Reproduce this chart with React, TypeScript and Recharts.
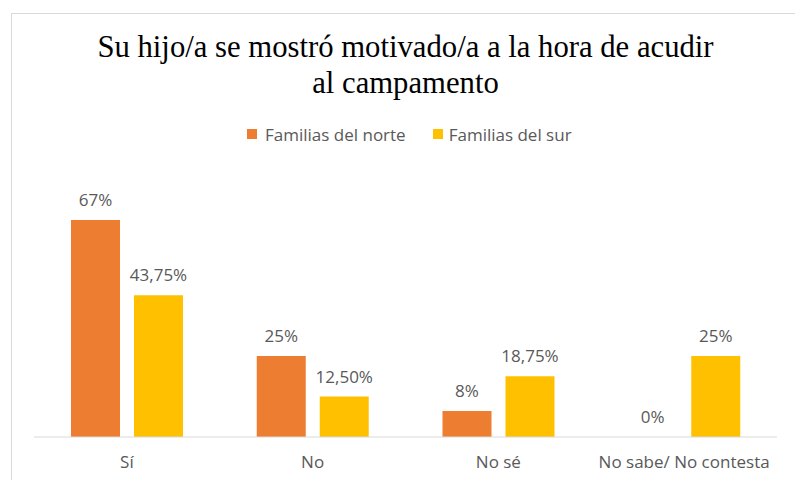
import React from "react";
import { BarChart, Bar, XAxis, YAxis, LabelList } from "recharts";

const categories = ["Sí", "No", "No sé", "No sabe/ No contesta"];
const norteValues = [67, 25, 8, 0];
const surValues = [43.75, 12.5, 18.75, 25];
const norteLabels = ["67%", "25%", "8%", "0%"];
const surLabels = ["43,75%", "12,50%", "18,75%", "25%"];
const seriesNames = ["Familias del norte", "Familias del sur"];
const titleLines = ["Su hijo/a se mostró motivado/a a la hora de acudir", "al campamento"];

const data = categories.map((c, i) => ({
  cat: c,
  norte: norteValues[i],
  sur: surValues[i],
  labelNorte: norteLabels[i],
  labelSur: surLabels[i],
}));

const ORANGE = "#ED7D31";
const YELLOW = "#FFC000";
const seriesColors = [ORANGE, YELLOW];
const TEXT = "#595959";
const FONT = "'Open Sans', sans-serif";

export default function App() {
  return (
    <div style={{ position: "absolute", left: 0, top: 0, width: 795, height: 480, overflow: "hidden", background: "#fff" }}>
      <div style={{ position: "absolute", left: 11, top: 13, width: 900, height: 700, border: "1px solid #d9d9d9" }} />
      <div
        style={{
          position: "absolute",
          left: 0,
          top: 29,
          width: 811,
          textAlign: "center",
          fontFamily: "'Liberation Serif', serif",
          fontSize: 30.7,
          lineHeight: "36px",
          color: "#000",
        }}
      >
        {titleLines.map((t, i) => (
          <div key={i}>{t}</div>
        ))}
      </div>
      <div
        style={{
          position: "absolute",
          left: 247,
          top: 122,
          height: 24,
          display: "flex",
          alignItems: "center",
          fontFamily: FONT,
          fontSize: 17,
          color: TEXT,
        }}
      >
        {seriesNames.map((n, i) => (
          <div key={i} style={{ display: "flex", alignItems: "center", marginRight: 27 }}>
            <span style={{ display: "inline-block", width: 10, height: 10, background: seriesColors[i], marginRight: i === 0 ? 8 : 6 }} />
            <span style={{ whiteSpace: "nowrap" }}>{n}</span>
          </div>
        ))}
      </div>
      <div style={{ position: "absolute", left: 0, top: 0 }}>
        <BarChart
          width={795}
          height={480}
          data={data}
          margin={{ top: 178, right: 18, left: 34, bottom: 0 }}
          barCategoryGap={37}
          barGap={14}
        >
          <XAxis
            dataKey="cat"
            height={43}
            tickLine={false}
            axisLine={{ stroke: "#d9d9d9", strokeWidth: 1 }}
            tickMargin={13}
            tick={{ fill: TEXT, fontSize: 17, fontFamily: FONT }}
            interval={0}
          />
          <YAxis hide domain={[0, 80]} />
          <Bar dataKey="norte" name={seriesNames[0]} fill={ORANGE} minPointSize={0.001} isAnimationActive={false}>
            <LabelList dataKey="labelNorte" position="top" offset={14} fill={TEXT} fontSize={17} fontFamily={FONT} />
          </Bar>
          <Bar dataKey="sur" name={seriesNames[1]} fill={YELLOW} isAnimationActive={false}>
            <LabelList dataKey="labelSur" position="top" offset={14} fill={TEXT} fontSize={17} fontFamily={FONT} />
          </Bar>
        </BarChart>
      </div>
    </div>
  );
}
